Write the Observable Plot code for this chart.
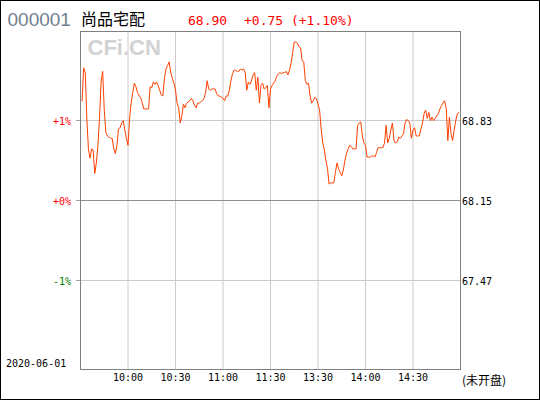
<!DOCTYPE html>
<html><head><meta charset="utf-8">
<script src="https://cdn.jsdelivr.net/npm/d3@7"></script>
<script src="https://cdn.jsdelivr.net/npm/@observablehq/plot@0.6"></script>
<style>
body{margin:0;background:#fff;}
#wrap{position:relative;width:540px;height:400px;background:#fff;overflow:hidden;}
#chart{position:absolute;left:0;top:0;}
#over{position:absolute;left:0;top:0;pointer-events:none;}
#border{position:absolute;left:0;top:0;width:540px;height:400px;box-sizing:border-box;border:1px solid #000;pointer-events:none;}
</style></head><body>
<div id="wrap"><div id="chart"></div><svg id="over" width="540" height="400"></svg><div id="border"></div></div>
<script>
// ---- data ----
const stockCode = "000001";
const stockName = "尚品宅配";
const lastPrice = "68.90";
const changeText = "+0.75 (+1.10%)";
const watermark = "CFi.CN";
const tradeDate = "2020-06-01";
const statusText = "(未开盘)";
const prevClose = 68.15;

const morningStart = "09:31";
const morningPrices = [
  69.00,69.28,69.24,68.85,68.59,68.51,68.59,68.58,68.38,68.47,
  68.62,68.85,69.16,69.25,68.92,68.73,68.70,68.69,68.68,68.68,
  68.59,68.55,68.62,68.76,68.77,68.81,68.83,68.75,68.68,68.62,
  68.85,68.98,69.07,69.15,69.12,69.07,69.04,69.03,68.98,68.93,
  68.93,68.93,68.93,69.12,69.11,69.16,69.14,69.16,69.13,69.09,
  69.05,69.04,69.19,69.27,69.30,69.33,69.24,69.19,69.15,69.09,
  68.98,68.94,68.81,68.87,68.97,68.94,68.98,68.99,69.00,69.02,
  69.00,68.96,68.94,68.98,68.98,68.99,69.00,69.02,69.07,69.17,
  69.10,69.09,69.10,69.10,69.10,69.06,69.04,69.04,69.03,69.02,
  69.00,69.04,69.04,69.09,69.17,69.23,69.26,69.26,69.25,69.25,
  69.27,69.26,69.27,69.24,69.09,69.16,69.14,69.17,69.22,69.24,
  69.09,69.20,68.98,69.13,69.15,69.10,69.11,69.13,68.94,69.10
];
const afternoonStart = "13:01";
const afternoonPrices = [
  69.13,69.15,69.17,69.21,69.23,69.24,69.23,69.24,69.24,69.25,
  69.22,69.26,69.32,69.41,69.50,69.50,69.49,69.46,69.45,69.34,
  69.33,69.17,69.14,69.15,69.04,68.98,69.00,69.03,69.02,68.97,
  68.92,68.76,68.64,68.58,68.49,68.42,68.29,68.30,68.30,68.30,
  68.39,68.47,68.42,68.39,68.36,68.41,68.49,68.55,68.59,68.62,
  68.61,68.59,68.59,68.59,68.79,68.81,68.82,68.70,68.64,68.62,
  68.52,68.52,68.52,68.53,68.53,68.52,68.56,68.60,68.60,68.60,
  68.60,68.64,68.79,68.64,68.68,68.75,68.81,68.66,68.64,68.65,
  68.69,68.68,68.70,68.72,68.81,68.84,68.83,68.81,68.68,68.75,
  68.77,68.70,68.70,68.70,68.76,68.81,68.89,68.92,68.85,68.90,
  68.83,68.86,68.83,68.85,68.87,68.89,68.93,68.96,68.98,69.00,
  68.93,68.66,68.86,68.72,68.66,68.75,68.83,68.89,68.90
];

const xTickLabels = ["10:00","10:30","11:00","11:30","13:30","14:00","14:30"];
const yTickPct = [1, 0, -1];
const yTickLabels = ["+1%","+0%","-1%"];
const priceTickLabels = ["68.83","68.15","67.47"];
const yLimitPct = 2.1125;
const sessionEnd = "15:00";

// ---- helpers ----
function toIndex(t) {
  const [h, mm] = t.split(":").map(Number);
  const tot = h * 60 + mm;
  return tot <= 11 * 60 + 30 ? tot - (9 * 60 + 30) : tot - 13 * 60 + 120;
}
const toPct = p => (p / prevClose - 1) * 100;
const series = [
  ...morningPrices.map((p, i) => ({m: toIndex(morningStart) + i, pct: toPct(p)})),
  ...afternoonPrices.map((p, i) => ({m: toIndex(afternoonStart) + i, pct: toPct(p)}))
];

const chart = Plot.plot({
  width: 540, height: 400,
  marginLeft: 80, marginRight: 80, marginTop: 31, marginBottom: 31,
  x: {domain: [0, toIndex(sessionEnd)], axis: null},
  y: {domain: [-yLimitPct, yLimitPct], axis: null},
  color: {type: "identity"},
  style: {fontFamily: "'DejaVu Sans Mono', monospace", fontSize: "10px", background: "transparent", color: "black"},
  marks: [
    Plot.ruleX(xTickLabels.map(toIndex), {stroke: "#cccccc"}),
    Plot.ruleY(yTickPct.filter(d => d !== 0), {stroke: "#cccccc"}),
    Plot.ruleY(yTickPct.filter(d => d === 0), {stroke: "#909090"}),
    Plot.frame({stroke: "#808080"}),
    Plot.axisY({ticks: yTickPct, tickSize: 4, tickFormat: () => "", stroke: "#a0a0a0", label: null}),
    Plot.text(yTickPct, {y: d => d, text: (d, i) => yTickLabels[i], frameAnchor: "left", textAnchor: "end", dx: -9.5, dy: 1.5,
      fill: d => d < 0 ? "#008000" : "#ff0000"}),
    Plot.text(yTickPct, {y: d => d, text: (d, i) => priceTickLabels[i], frameAnchor: "right", textAnchor: "start", dx: 1.5, dy: 1.5, fill: "black"}),
    Plot.text(xTickLabels, {x: d => toIndex(d), text: d => d, frameAnchor: "bottom", lineAnchor: "top", dy: 4.5, fill: "black"}),
    Plot.line(series, {x: "m", y: "pct", stroke: "#ff4000", strokeWidth: 1})
  ]
});
document.getElementById("chart").append(chart);

// ---- titles & annotations ----
const over = d3.select("#over");
over.append("text").attr("x", 7.5).attr("y", 26).attr("font-family", "'Liberation Sans', Arial, sans-serif")
  .attr("font-size", 19).attr("fill", "#708090").text(stockCode);
over.append("text").attr("x", 81).attr("y", 25).attr("font-family", "'Noto Sans CJK SC', sans-serif")
  .attr("font-size", 16).attr("fill", "#000").text(stockName);
over.append("text").attr("x", 188).attr("y", 25).attr("font-family", "'DejaVu Sans Mono', monospace")
  .attr("font-size", 13).attr("fill", "#ff0000").text(lastPrice);
over.append("text").attr("x", 244).attr("y", 25).attr("font-family", "'DejaVu Sans Mono', monospace")
  .attr("font-size", 13).attr("fill", "#ff0000").style("white-space", "pre").text(changeText);
over.append("text").attr("x", 87.5).attr("y", 55).attr("font-family", "'Liberation Sans', Arial, sans-serif")
  .attr("font-size", 22).attr("font-weight", "bold").attr("fill", "#d2d2d2").text(watermark);
over.append("text").attr("x", 6).attr("y", 367).attr("font-family", "'DejaVu Sans Mono', monospace")
  .attr("font-size", 10).attr("fill", "#000").text(tradeDate);
over.append("text").attr("x", 462).attr("y", 385).attr("font-family", "'Noto Sans CJK SC', sans-serif")
  .attr("font-size", 12).attr("fill", "#000").text(statusText);
</script>
</body></html>
